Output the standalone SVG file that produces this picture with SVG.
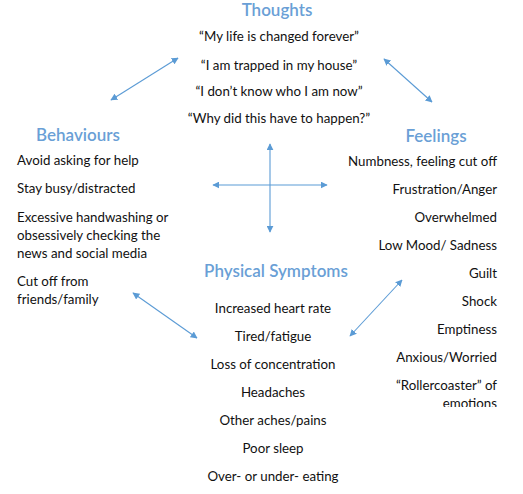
<svg xmlns="http://www.w3.org/2000/svg" width="523" height="494" viewBox="0 0 523 494">
<defs>
<marker id="ah" viewBox="0 0 10 10" refX="9" refY="5" markerWidth="7" markerHeight="7" orient="auto-start-reverse" markerUnits="userSpaceOnUse">
<path d="M0,0 L10,5 L0,10 z" fill="#5B9BD5"/>
</marker>
<clipPath id="clipF"><rect x="0" y="0" width="523" height="407"/></clipPath>
</defs>
<style>
.t{font-family:Lato,"Open Sans","Liberation Sans",sans-serif;font-size:13.3px;fill:#111}
.h{font-family:Lato,"Open Sans","Liberation Sans",sans-serif;font-size:17px;fill:#6A9FD6;font-weight:600}
.c{text-anchor:middle}
.r{text-anchor:end}
.ln{stroke:#5B9BD5;stroke-width:1.1;fill:none;marker-start:url(#ah);marker-end:url(#ah)}
</style>
<rect width="523" height="494" fill="#fff"/>
<g id="thoughts">
<text class="h c" x="277" y="16">Thoughts</text>
<text class="t c" x="279" y="41">“My life is changed forever”</text>
<text class="t c" x="279" y="70">“I am trapped in my house”</text>
<text class="t c" x="279" y="96">“I don’t know who I am now”</text>
<text class="t c" x="279" y="123">“Why did this have to happen?”</text>
</g>
<g id="behaviours">
<text class="h c" x="78" y="141">Behaviours</text>
<text class="t" x="17" y="165">Avoid asking for help</text>
<text class="t" x="17" y="193">Stay busy/distracted</text>
<text class="t" x="17" y="222">Excessive handwashing or</text>
<text class="t" x="17" y="240">obsessively checking the</text>
<text class="t" x="17" y="258">news and social media</text>
<text class="t" x="17" y="286">Cut off from</text>
<text class="t" x="17" y="304">friends/family</text>
</g>
<g id="feelings">
<text class="h c" x="436" y="142">Feelings</text>
<text class="t r" x="497" y="166">Numbness, feeling cut off</text>
<text class="t r" x="497" y="194">Frustration/Anger</text>
<text class="t r" x="497" y="222">Overwhelmed</text>
<text class="t r" x="497" y="250">Low Mood/ Sadness</text>
<text class="t r" x="497" y="278">Guilt</text>
<text class="t r" x="497" y="306">Shock</text>
<text class="t r" x="497" y="334">Emptiness</text>
<text class="t r" x="497" y="362">Anxious/Worried</text>
<text class="t r" x="497" y="390">“Rollercoaster” of</text>
<text class="t r" x="497" y="408" clip-path="url(#clipF)">emotions</text>
</g>
<g id="physical">
<text class="h c" x="276" y="277">Physical Symptoms</text>
<text class="t c" x="273" y="313">Increased heart rate</text>
<text class="t c" x="273" y="341">Tired/fatigue</text>
<text class="t c" x="273" y="369">Loss of concentration</text>
<text class="t c" x="273" y="397">Headaches</text>
<text class="t c" x="273" y="425">Other aches/pains</text>
<text class="t c" x="273" y="453">Poor sleep</text>
<text class="t c" x="273" y="481">Over- or under- eating</text>
</g>
<g id="connectors">
<line class="ln" x1="178" y1="58" x2="111" y2="100"/>
<line class="ln" x1="384" y1="59" x2="432" y2="102"/>
<line class="ln" x1="133" y1="293" x2="197" y2="338"/>
<line class="ln" x1="402" y1="280" x2="350" y2="336"/>
<line class="ln" x1="270" y1="144" x2="270" y2="232"/>
<line class="ln" x1="213" y1="185" x2="327" y2="185"/>
</g>
</svg>
